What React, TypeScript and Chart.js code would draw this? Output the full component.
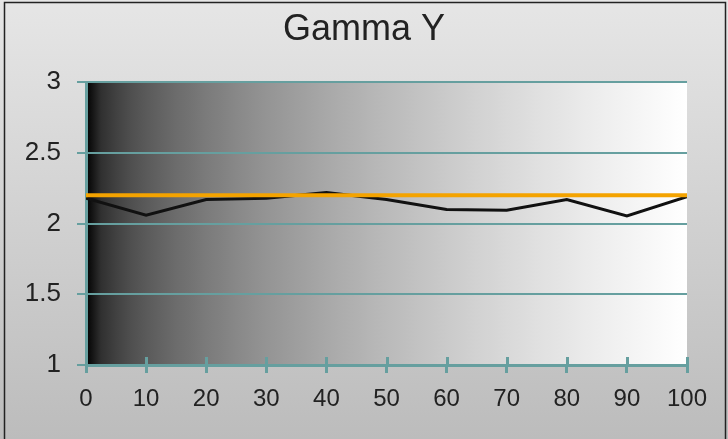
import React, { useEffect, useRef } from "react";
import { Chart, registerables } from "chart.js";

Chart.register(...registerables);

const xValues = [0, 10, 20, 30, 40, 50, 60, 70, 80, 90, 100];
const gammaY = [2.18, 2.06, 2.17, 2.18, 2.22, 2.17, 2.1, 2.095, 2.17, 2.055, 2.19];
const targetGamma = [2.2, 2.2, 2.2, 2.2, 2.2, 2.2, 2.2, 2.2, 2.2, 2.2, 2.2];
const chartTitle = "Gamma Y";

const TEAL = "#669f9f";
const FONT = '"Liberation Sans", Arial, Helvetica, sans-serif';

const backgroundPlugin = {
  id: "gammaBackground",
  beforeDraw(chart: any) {
    const { ctx, width, height, chartArea } = chart;
    ctx.save();
    const vg = ctx.createLinearGradient(0, 0, 0, height);
    vg.addColorStop(0, "#e6e6e6");
    vg.addColorStop(1, "#bcbcbc");
    ctx.fillStyle = vg;
    ctx.fillRect(0, 0, width, height);
    if (chartArea) {
      const { left, right, top, bottom } = chartArea;
      const hg = ctx.createLinearGradient(left, 0, right, 0);
      for (let i = 0; i <= 40; i++) {
        const t = i / 40;
        const v = Math.round(255 * Math.pow(t, 1 / 2.2));
        hg.addColorStop(t, `rgb(${v},${v},${v})`);
      }
      ctx.fillStyle = hg;
      ctx.fillRect(left, top, right - left, bottom - top);
    }
    ctx.restore();
  },
  beforeDatasetsDraw(chart: any) {
    const { ctx, chartArea } = chart;
    const xs = chart.scales.x;
    ctx.save();
    ctx.strokeStyle = TEAL;
    ctx.lineWidth = 3;
    xs.ticks.forEach((tk: any) => {
      const px = Math.round(xs.getPixelForValue(tk.value)) + 0.5;
      ctx.beginPath();
      ctx.moveTo(px, chartArea.bottom - 8);
      ctx.lineTo(px, chartArea.bottom);
      ctx.stroke();
    });
    ctx.restore();
  },
  afterDraw(chart: any) {
    const { ctx, width, height } = chart;
    ctx.save();
    ctx.strokeStyle = "#222";
    ctx.lineWidth = 1.5;
    ctx.strokeRect(4.5, 2.5, width - 7, height + 5);
    ctx.restore();
  },
};

export default function App() {
  const canvasRef = useRef<HTMLCanvasElement | null>(null);

  useEffect(() => {
    document.body.style.margin = "0";
    const canvas = canvasRef.current;
    if (!canvas) return;
    const chart = new Chart(canvas, {
      type: "line",
      data: {
        labels: xValues,
        datasets: [
          {
            label: "Target",
            data: xValues.map((x, i) => ({ x, y: targetGamma[i] })),
            borderColor: "#f4a300",
            borderWidth: 4,
            pointRadius: 0,
            tension: 0,
          },
          {
            label: "Gamma Y",
            data: xValues.map((x, i) => ({ x, y: gammaY[i] })),
            borderColor: "#111111",
            borderWidth: 3,
            pointRadius: 0,
            tension: 0,
          },
        ],
      },
      options: {
        responsive: false,
        animation: false,
        layout: { padding: 0 },
        plugins: {
          legend: { display: false },
          tooltip: { enabled: false },
          title: {
            display: true,
            text: chartTitle,
            color: "#222",
            font: { family: FONT, size: 36, weight: "normal" },
            padding: { top: 8, bottom: 31 },
          },
        },
        scales: {
          x: {
            type: "linear",
            min: 0,
            max: 100,
            ticks: {
              stepSize: 10,
              color: "#222",
              font: { family: FONT, size: 24 },
              padding: 12,
              maxRotation: 0,
              autoSkip: false,
            },
            grid: { drawOnChartArea: false, color: TEAL, lineWidth: 3, tickLength: 8 },
            border: { color: TEAL, width: 3 },
            afterFit: (s: any) => {
              s.height = 74;
            },
          },
          y: {
            min: 1,
            max: 3,
            ticks: {
              stepSize: 0.5,
              color: "#222",
              font: { family: FONT, size: 26 },
              padding: 16,
              callback: (v: any) => String(Number(v)),
            },
            grid: { color: TEAL, lineWidth: 2, tickLength: 9 },
            border: { color: TEAL, width: 3 },
            afterFit: (s: any) => {
              s.width = 86;
            },
          },
          yRight: {
            position: "right",
            min: 1,
            max: 3,
            ticks: { display: false },
            grid: { display: false, drawOnChartArea: false },
            border: { display: false },
            afterFit: (s: any) => {
              s.width = 41;
            },
          },
        },
      },
      plugins: [backgroundPlugin],
    } as any);
    return () => chart.destroy();
  }, []);

  return <canvas ref={canvasRef} width={728} height={439} style={{ display: "block" }} />;
}
